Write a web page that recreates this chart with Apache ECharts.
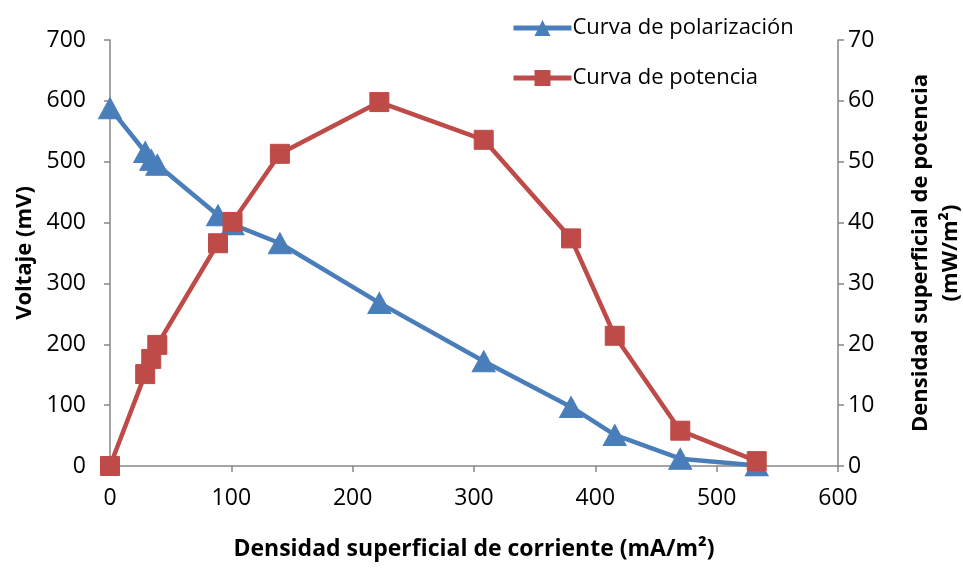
<!DOCTYPE html>
<html>
<head>
<meta charset="utf-8">
<script src="https://cdn.jsdelivr.net/npm/echarts@6/dist/echarts.min.js"></script>
<style>
  html, body { margin: 0; padding: 0; background: #fff; }
  #main { width: 963px; height: 568px; }
</style>
</head>
<body>
<div id="main"></div>
<script>
// densidad de corriente (mA/m2), shared by both curves
var corriente = [0, 29, 34, 39, 89, 101, 140, 222, 308, 380, 416, 470, 533];
// voltaje (mV)
var voltaje = [588, 516, 503, 495, 412, 397, 366, 268, 172, 97, 51, 12, 1];
// densidad de potencia (mW/m2)
var potencia = [0, 15.1, 17.6, 19.9, 36.6, 40.1, 51.3, 59.8, 53.6, 37.4, 21.4, 5.8, 0.8];

var xTicks = [0, 100, 200, 300, 400, 500, 600];
var leftTicks = [0, 100, 200, 300, 400, 500, 600, 700];
var rightTicks = [0, 10, 20, 30, 40, 50, 60, 70];

var FONT = 'Open Sans';
var axisGray = '#868686';

function pairs(xs, ys) {
  return xs.map(function (x, i) { return [x, ys[i]]; });
}

var chartDom = document.getElementById('main');
var myChart = echarts.init(chartDom);
var option;

option = {
  animation: false,
  textStyle: { fontFamily: FONT, color: '#000' },
  legend: {
    orient: 'vertical',
    left: 506,
    top: 12,
    itemWidth: 58,
    itemHeight: 20,
    itemGap: 28,
    lineStyle: { width: 5 },
    textStyle: { fontFamily: FONT, fontSize: 22, color: '#000', padding: [0, 0, 0, -4] },
    data: ['Curva de polarización', 'Curva de potencia']
  },
  grid: { left: 110, right: 125, top: 40, bottom: 102, outerBoundsMode: 'none', containLabel: false },
  xAxis: {
    type: 'value',
    min: xTicks[0],
    max: xTicks[xTicks.length - 1],
    interval: 100,
    name: 'Densidad superficial de corriente (mA/m²)',
    nameLocation: 'middle',
    nameGap: 72,
    nameTextStyle: { fontFamily: FONT, fontSize: 23, fontWeight: 'bold', color: '#000' },
    axisLine: { lineStyle: { color: axisGray, width: 1.5 } },
    axisTick: { show: true, length: 6, inside: false, lineStyle: { color: axisGray, width: 1.5 } },
    axisLabel: { fontFamily: FONT, fontSize: 23, color: '#000', margin: 21 },
    splitLine: { show: false }
  },
  yAxis: [
    {
      type: 'value',
      position: 'left',
      min: leftTicks[0],
      max: leftTicks[leftTicks.length - 1],
      interval: 100,
      name: 'Voltaje (mV)',
      nameLocation: 'middle',
      nameRotate: 90,
      nameGap: 72,
      nameTextStyle: { fontFamily: FONT, fontSize: 22, fontWeight: 'bold', color: '#000' },
      axisLine: { show: true, lineStyle: { color: axisGray, width: 1.5 } },
      axisTick: { show: true, length: 6, lineStyle: { color: axisGray, width: 1.5 } },
      axisLabel: { fontFamily: FONT, fontSize: 23, color: '#000', margin: 24 },
      splitLine: { show: false }
    },
    {
      type: 'value',
      position: 'right',
      min: rightTicks[0],
      max: rightTicks[rightTicks.length - 1],
      interval: 10,
      name: 'Densidad superficial de potencia\n(mW/m²)',
      nameLocation: 'middle',
      nameRotate: 90,
      nameGap: 68,
      nameTextStyle: { fontFamily: FONT, fontSize: 22, fontWeight: 'bold', color: '#000', lineHeight: 30, verticalAlign: 'top' },
      axisLine: { show: true, lineStyle: { color: axisGray, width: 1.5 } },
      axisTick: { show: true, length: 6, lineStyle: { color: axisGray, width: 1.5 } },
      axisLabel: { fontFamily: FONT, fontSize: 23, color: '#000', margin: 10 },
      splitLine: { show: false }
    }
  ],
  series: [
    {
      name: 'Curva de polarización',
      type: 'line',
      yAxisIndex: 0,
      data: pairs(corriente, voltaje),
      symbol: 'triangle',
      symbolSize: [23, 21],
      lineStyle: { color: '#4A7EBB', width: 4.5 },
      itemStyle: { color: '#4A7EBB', borderColor: '#4A7EBB' }
    },
    {
      name: 'Curva de potencia',
      type: 'line',
      yAxisIndex: 1,
      data: pairs(corriente, potencia),
      symbol: 'rect',
      symbolSize: 19,
      lineStyle: { color: '#BE4B48', width: 4.5 },
      itemStyle: { color: '#BE4B48', borderColor: '#BE4B48' }
    }
  ]
};

option && myChart.setOption(option);
</script>
</body>
</html>
